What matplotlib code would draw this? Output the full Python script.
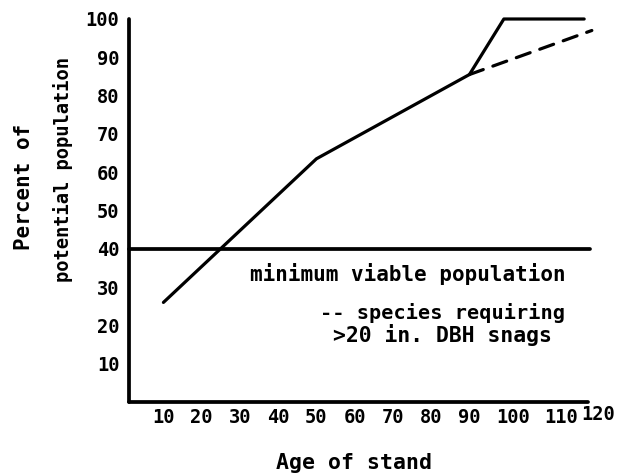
import matplotlib
matplotlib.use("Agg")
import matplotlib.pyplot as plt
from matplotlib.transforms import ScaledTranslation

# Stand age (years) and percent of potential population
age = [10, 50, 90, 99, 120]
percent = [26, 63.5, 85.5, 100, 100]

# Species requiring large (>20 in. DBH) snags
age_large_snag = [90, 122]
percent_large_snag = [85.5, 97]

min_viable = 40

x_ticks = [10, 20, 30, 40, 50, 60, 70, 80, 90, 100, 110, 120]
y_ticks = [10, 20, 30, 40, 50, 60, 70, 80, 90, 100]

FONT = "DejaVu Sans Mono"

fig = plt.figure(figsize=(6.43, 4.75), dpi=100)
ax = fig.add_axes([129 / 643, 73 / 475, 459 / 643, 383 / 475])

lw = 2.3
ax.plot(age, percent, color="black", lw=lw, solid_capstyle="round",
        solid_joinstyle="round", clip_on=False)
ax.plot(age_large_snag, percent_large_snag, color="black", lw=lw,
        dashes=(4.6, 3.2), dash_capstyle="round", clip_on=False)
ax.plot([1, 121.5], [min_viable, min_viable], color="black", lw=2.7,
        solid_capstyle="round", clip_on=False)

ax.set_xlim(1, 121)
ax.set_ylim(0, 99.5)

for side in ("top", "right"):
    ax.spines[side].set_visible(False)
for side in ("left", "bottom"):
    ax.spines[side].set_linewidth(2.7)
    ax.spines[side].set_capstyle("round")

ax.set_xticks(x_ticks)
ax.set_yticks(y_ticks)
ax.set_xticklabels([str(v) for v in x_ticks], fontfamily=FONT,
                   fontweight="bold", fontsize=13.5)
ax.set_yticklabels([str(v) for v in y_ticks], fontfamily=FONT,
                   fontweight="bold", fontsize=13.5)
ax.tick_params(axis="x", length=0, pad=4)
ax.tick_params(axis="y", length=0, pad=7)

# typewritten spacing of the last few age labels
shifts = {100: (3.6, 0), 110: (10.8, 0), 120: (10.0, 2.2)}
for val, lab in zip(x_ticks, ax.get_xticklabels()):
    if val in shifts:
        dx, dy = shifts[val]
        lab.set_transform(lab.get_transform() +
                          ScaledTranslation(dx / 72, dy / 72, fig.dpi_scale_trans))

W, H = 643, 475


def put(px, py, s, size, ha="left", rot=0):
    fig.text(px / W, 1 - py / H, s, fontfamily=FONT, fontweight="bold",
             fontsize=size, ha=ha, va="center", rotation=rot)


put(250, 274, "minimum viable population", 15)
put(320, 313, "-- species requiring", 14.6)
put(333, 335, ">20 in. DBH snags", 15.4)
put(354, 463, "Age of stand", 15.5, ha="center")
put(24, 187, "Percent of", 15, ha="center", rot=90)
put(63, 170, "potential population", 13.5, ha="center", rot=90)

fig.savefig("out.png", dpi=100, facecolor="white")
